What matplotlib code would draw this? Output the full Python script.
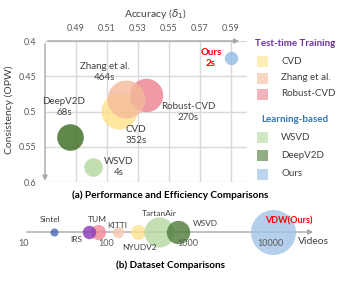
import numpy as np
import matplotlib
matplotlib.use('Agg')
import matplotlib.pyplot as plt
from matplotlib.patches import Rectangle

plt.rcParams['font.family'] = ['Lato', 'DejaVu Sans']

# ---- (a) performance vs. efficiency ----
methods = ['CVD', 'Robust-CVD', 'Zhang et al.', 'DeepV2D', 'WSVD', 'Ours']
accuracy = [0.518, 0.535, 0.522, 0.486, 0.501, 0.590]
consistency = [0.499, 0.476, 0.482, 0.536, 0.579, 0.424]
runtime = ['352s', '270s', '464s', '68s', '4s', '2s']
acc_ticks = [0.49, 0.51, 0.53, 0.55, 0.57, 0.59]
opw_ticks = [0.4, 0.45, 0.5, 0.55, 0.6]
opw_labels = ['0.4', '0.45', '0.5', '0.55', '0.6']

# ---- (b) dataset sizes ----
datasets = ['Sintel', 'TUM', 'IRS', 'KITTI', 'NYUDV2', 'TartanAir', 'WSVD', 'VDW(Ours)']
videos = [23, 80, 62, 140, 245, 440, 750, 10900]
video_ticks = [10, 100, 1000, 10000]
video_tick_labels = ['10', '100', '1000', '10000']

# styles
W, H = 340, 289
TXT = '#404040'
GRAY = '#595959'
AX = '#A6A6A6'
top_colors = ['#FFE188', '#EC818E', '#F4BA9A', '#386B1D', '#B3D79C', '#92BAE5']
top_radius = [18, 16.7, 19, 13.3, 9.3, 6.7]           # px
bot_colors = ['#4A69B4', '#F08895', '#8837BA', '#F6C8AE', '#FCE18E',
              '#B6D8A1', '#4C7B37', '#A1C3E7']
bot_radius = [4, 7.5, 6.7, 5.7, 7.5, 15, 11.7, 22.5]  # px


def box(l, t, r, b):
    return [l / W, 1 - b / H, (r - l) / W, (b - t) / H]


def size(r):
    return (2 * r * 72 / 100) ** 2


fig = plt.figure(figsize=(3.4, 2.89), dpi=100)

# ── (a) ──
ax = fig.add_axes(box(45, 41, 246.5, 182))
ax.set_xlim(0.47, 0.6)
ax.set_ylim(0.6, 0.4)
ax.xaxis.tick_top()
ax.set_xticks(acc_ticks, [f'{t:.2f}' for t in acc_ticks])
ax.set_yticks(opw_ticks, opw_labels)
ax.tick_params(length=0, labelsize=6.5, labelcolor=GRAY)
ax.tick_params(axis='x', pad=6)
ax.tick_params(axis='y', pad=6)
ax.grid(color='#D9D9D9', lw=1)
for s in ax.spines.values():
    s.set_visible(False)

for i in range(len(methods)):
    ax.scatter(accuracy[i], consistency[i], s=size(top_radius[i]),
               color=top_colors[i], alpha=0.8, lw=0, zorder=3, clip_on=False)

ax.annotate('', xy=(0.597, 0.4), xytext=(0.47, 0.4),
            arrowprops=dict(arrowstyle='-|>', color=AX, lw=1, mutation_scale=7),
            annotation_clip=False, zorder=4)
ax.annotate('', xy=(0.47, 0.602), xytext=(0.47, 0.4),
            arrowprops=dict(arrowstyle='-|>', color=AX, lw=1, mutation_scale=7),
            annotation_clip=False, zorder=4)

# ── (b) ──
axb = fig.add_axes(box(24, 207, 316, 257))
axb.set_xscale('log')
axb.set_xlim(10, 10 ** (1 + 292 / 82))
axb.set_ylim(-1, 1)
axb.set_yticks([])
axb.set_xticks(video_ticks, video_tick_labels)
axb.minorticks_off()
axb.set_axisbelow(False)
axb.tick_params(length=0, labelsize=6.5, labelcolor=GRAY, pad=5)
for k, s in axb.spines.items():
    s.set_color('none')
axb.spines['bottom'].set_position(('data', 0))
axb.patch.set_alpha(0)

axb.annotate('', xy=(1, 0), xytext=(0, 0),
             xycoords=('axes fraction', 'data'), textcoords=('axes fraction', 'data'),
             arrowprops=dict(arrowstyle='-|>', color=AX, lw=1, mutation_scale=7),
             annotation_clip=False, zorder=1)
for i in range(len(datasets)):
    axb.scatter(videos[i], 0, s=size(bot_radius[i]), color=bot_colors[i],
                alpha=0.8, lw=0, zorder=2, clip_on=False)

# ── text overlay in pixel coords ──
ov = fig.add_axes([0, 0, 1, 1])
ov.set_xlim(0, W)
ov.set_ylim(H, 0)
ov.axis('off')

ov.text(155, 14, r'Accuracy ($\delta_1$)', ha='center', va='center', fontsize=7.5, color=TXT)
ov.text(9, 110, 'Consistency (OPW)', ha='center', va='center', rotation=90,
        fontsize=7.5, color=TXT)

lab_pos = {'CVD': (136, 135), 'Robust-CVD': (188, 112), 'Zhang et al.': (105, 72),
           'DeepV2D': (64, 107), 'WSVD': (119, 167)}
for m, t in zip(methods, runtime):
    if m == 'Ours':
        ov.text(211, 58, f'{m}\n{t}', ha='center', va='center', fontsize=7,
                color='#FF0000', fontweight='bold', linespacing=1.25)
    else:
        x, y = lab_pos[m]
        ov.text(x, y, f'{m}\n{t}', ha='center', va='center', fontsize=7,
                color=TXT, linespacing=1.25)

# legend
ov.text(295, 43, 'Test-time Training', ha='center', va='center', fontsize=7,
        fontweight='bold', color='#7030A0')
ov.text(295, 120, 'Learning-based', ha='center', va='center', fontsize=7,
        fontweight='bold', color='#2E75B6')
leg_y = [61, 94, 78, 155, 137, 174]
for i, m in enumerate(methods):
    ov.add_patch(Rectangle((257, leg_y[i] - 5.5), 11, 11, color=top_colors[i],
                           alpha=0.6 if i != 3 else 0.55, lw=0))
    ov.text(281, leg_y[i], m, ha='left', va='center', fontsize=7, color=TXT)

ov.text(170, 195, '(a) Performance and Efficiency Comparisons', ha='center',
        va='center', fontsize=7.2, fontweight='bold', color='black')
ov.text(171, 265, '(b) Dataset Comparisons', ha='center', va='center',
        fontsize=7.2, fontweight='bold', color='black')

bot_lab = {'Sintel': (50, 220), 'TUM': (97, 219), 'IRS': (76, 239), 'KITTI': (117, 226),
           'NYUDV2': (140, 247), 'TartanAir': (159, 214), 'WSVD': (205, 223)}
for d, (x, y) in bot_lab.items():
    ov.text(x, y, d, ha='center', va='center', fontsize=6, color=TXT)
ov.text(289, 221, datasets[-1], ha='center', va='center', fontsize=6.5,
        fontweight='bold', color='#FF0000')
ov.text(313, 241, 'Videos', ha='center', va='center', fontsize=7.5, color=TXT)

fig.savefig('out.png', dpi=100)
